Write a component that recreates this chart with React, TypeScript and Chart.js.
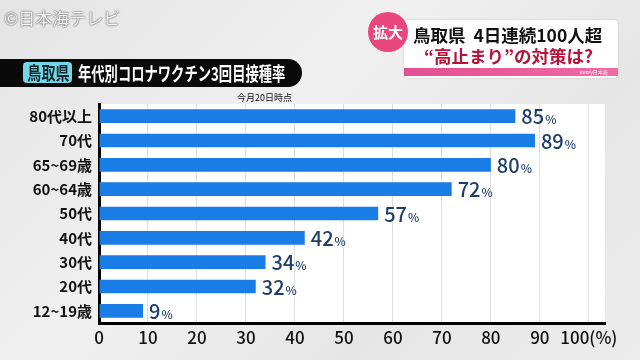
import React, { useEffect, useRef } from "react";
import { Chart, registerables } from "chart.js";

Chart.register(...registerables);

const categories = ["80代以上", "70代", "65~69歳", "60~64歳", "50代", "40代", "30代", "20代", "12~19歳"];
const rates = [85, 89, 80, 72, 57, 42, 34, 32, 9];
const xTicks = [0, 10, 20, 30, 40, 50, 60, 70, 80, 90, 100];

const JP = '"Noto Sans CJK JP", "Noto Sans", sans-serif';

const plotBg = {
  id: "plotBg",
  beforeDraw(chart: any) {
    const { ctx, chartArea } = chart;
    ctx.save();
    ctx.fillStyle = "#ffffff";
    ctx.fillRect(chartArea.left, chartArea.top, chartArea.right - chartArea.left, chartArea.bottom - chartArea.top);
    ctx.restore();
  },
};

const valueLabels = {
  id: "valueLabels",
  afterDatasetsDraw(chart: any) {
    const { ctx } = chart;
    const meta = chart.getDatasetMeta(0);
    const data = chart.data.datasets[0].data as number[];
    ctx.save();
    ctx.fillStyle = "#1d3e6b";
    ctx.textBaseline = "alphabetic";
    meta.data.forEach((bar: any, i: number) => {
      const num = String(data[i]);
      const x = bar.x + 6;
      const y = bar.y + 8;
      ctx.font = `500 20px ${JP}`;
      ctx.fillText(num, x, y);
      const w = ctx.measureText(num).width;
      ctx.font = `500 12px ${JP}`;
      ctx.fillText("%", x + w + 1, y);
    });
    ctx.restore();
  },
};

function ChartView() {
  const ref = useRef<HTMLCanvasElement | null>(null);
  useEffect(() => {
    if (!ref.current) return;
    const chart = new Chart(ref.current, {
      type: "bar",
      data: {
        labels: categories,
        datasets: [
          {
            data: rates,
            backgroundColor: "#1a7de6",
            borderWidth: 0,
            barPercentage: 0.56,
            categoryPercentage: 1,
          },
        ],
      },
      options: {
        indexAxis: "y",
        animation: false,
        responsive: false,
        maintainAspectRatio: false,
        layout: { padding: { left: 0, right: 35, top: 104, bottom: 0 } },
        plugins: { legend: { display: false }, tooltip: { enabled: false } },
        scales: {
          x: {
            min: 0,
            max: 103.3,
            afterBuildTicks(scale: any) {
              scale.ticks = xTicks.map((v) => ({ value: v }));
            },
            afterFit(scale: any) {
              scale.height = 37;
            },
            grid: { color: "#dedede", lineWidth: 1, drawTicks: false },
            border: { color: "#000000", width: 3 },
            ticks: {
              color: "#111111",
              padding: 4,
              maxRotation: 0,
              minRotation: 0,
              autoSkip: false,
              font: { family: JP, size: 17, weight: "500" as any },
              callback: (v: any) => (Number(v) === 100 ? "100(%)" : String(v)),
            },
          },
          y: {
            afterFit(scale: any) {
              scale.width = 99;
            },
            grid: { display: false, drawTicks: false },
            border: { color: "#000000", width: 3 },
            ticks: {
              color: "#111111",
              padding: 7,
              font: { family: JP, size: 15, weight: "bold" as any },
            },
          },
        },
      },
      plugins: [plotBg, valueLabels],
    });
    return () => chart.destroy();
  }, []);
  return <canvas ref={ref} width={640} height={360} style={{ position: "absolute", left: 0, top: 0 }} />;
}

export default function App() {
  return (
    <div
      style={{
        position: "fixed",
        left: 0,
        top: 0,
        width: 640,
        height: 360,
        overflow: "hidden",
        background: "linear-gradient(135deg, #e4e4e4 0%, #f0f0f0 40%, #e6e6e6 70%, #ececec 100%)",
        fontFamily: JP,
      }}
    >
      <ChartView />
      {/* watermark */}
      <div
        style={{
          position: "absolute",
          left: 4,
          top: 5,
          fontSize: 17,
          color: "#f4f4f4",
          textShadow: "0 0 2px #666, 0 0 1px #555",
          whiteSpace: "nowrap",
        }}
      >
        ©日本海テレビ
      </div>
      {/* title bar */}
      <div
        style={{
          position: "absolute",
          left: 0,
          top: 59,
          width: 302,
          height: 28,
          background: "#0a0a0a",
          borderRadius: "0 14px 14px 0",
        }}
      />
      <div
        style={{
          position: "absolute",
          left: 23,
          top: 62,
          width: 49,
          height: 21,
          background: "#72d8e6",
          borderRadius: 4,
          overflow: "hidden",
        }}
      >
        <div
          style={{
            position: "absolute",
            left: 0,
            top: 0,
            width: 60,
            color: "#14262f",
            fontWeight: "bold",
            fontSize: 18,
            lineHeight: "21px",
            textAlign: "center",
            whiteSpace: "nowrap",
            transform: "scaleX(0.78)",
            transformOrigin: "0 0",
            marginLeft: 1.5,
          }}
        >
          鳥取県
        </div>
      </div>
      <div
        style={{
          position: "absolute",
          left: 78,
          top: 59,
          height: 28,
          lineHeight: "28px",
          color: "#ffffff",
          fontWeight: "bold",
          fontSize: 19,
          whiteSpace: "nowrap",
          transform: "scaleX(0.7)",
          transformOrigin: "0 0",
        }}
      >
        年代別コロナワクチン3回目接種率
      </div>
      <div
        style={{
          position: "absolute",
          left: 237,
          top: 91,
          fontSize: 9,
          color: "#111",
          whiteSpace: "nowrap",
        }}
      >
        今月20日時点
      </div>
      {/* top right headline */}
      <div
        style={{
          position: "absolute",
          left: 404,
          top: 20,
          width: 214,
          height: 58,
          background: "#ffffff",
          borderRadius: 4,
          boxShadow: "0 0 2px rgba(0,0,0,0.2)",
        }}
      />
      <div
        style={{
          position: "absolute",
          left: 404,
          top: 68,
          width: 214,
          height: 8,
          background: "linear-gradient(90deg, #e24f92, #f06aa6)",
        }}
      />
      <div
        style={{
          position: "absolute",
          left: 580,
          top: 68,
          fontSize: 5,
          lineHeight: "8px",
          color: "#fff",
          whiteSpace: "nowrap",
        }}
      >
        every日本海
      </div>
      <div
        style={{
          position: "absolute",
          left: 413,
          top: 24,
          fontSize: 17.5,
          fontWeight: "bold",
          color: "#111",
          whiteSpace: "nowrap",
          lineHeight: "22px",
        }}
      >
        鳥取県&nbsp;&nbsp;4日連続100人超
      </div>
      <div
        style={{
          position: "absolute",
          left: 424,
          top: 45,
          fontSize: 17.5,
          fontWeight: "bold",
          color: "#b8123a",
          whiteSpace: "nowrap",
          lineHeight: "22px",
        }}
      >
        “高止まり”の対策は?
      </div>
      <div
        style={{
          position: "absolute",
          left: 368,
          top: 12,
          width: 40,
          height: 40,
          borderRadius: 20,
          background: "#e8467c",
          color: "#fff",
          fontWeight: "bold",
          fontSize: 15,
          lineHeight: "40px",
          textAlign: "center",
          whiteSpace: "nowrap",
        }}
      >
        拡大
      </div>
    </div>
  );
}
